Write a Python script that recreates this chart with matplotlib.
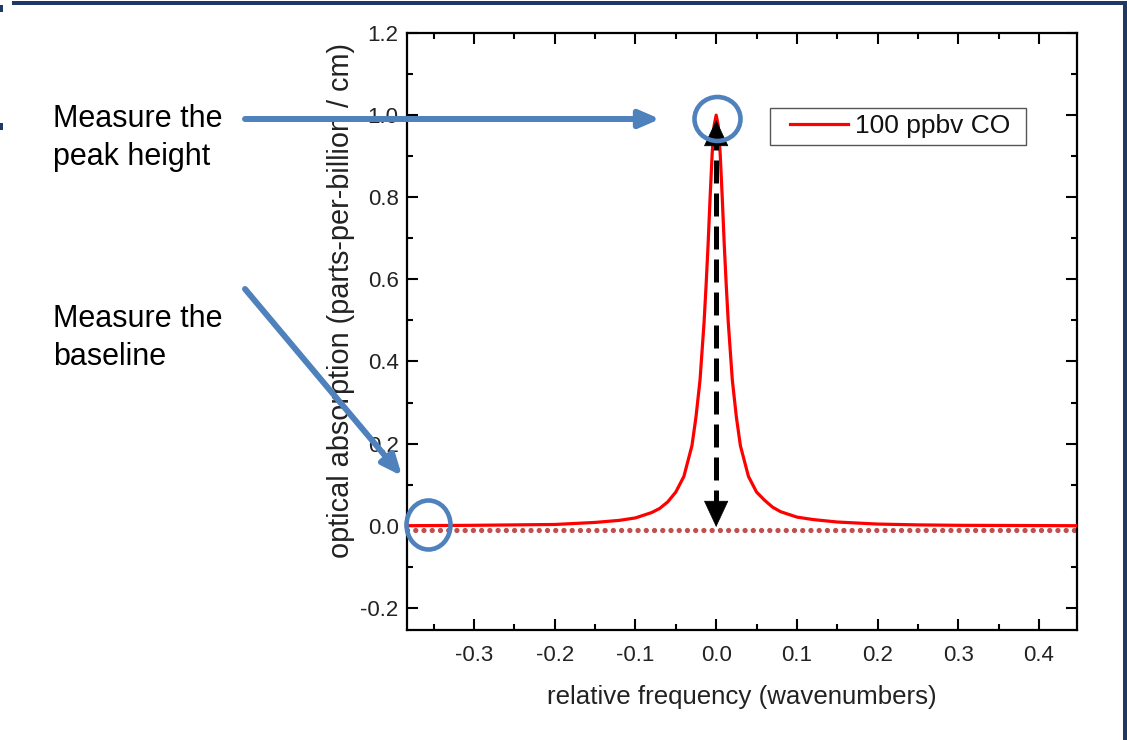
import matplotlib
matplotlib.use("Agg")
import matplotlib.pyplot as plt
from matplotlib.patches import FancyArrowPatch, Ellipse, Rectangle
from matplotlib.ticker import MultipleLocator

plt.rcParams['font.family'] = ['Liberation Sans', 'DejaVu Sans']

# ---- data ----
freq = [-0.383, -0.30, -0.25, -0.20, -0.15, -0.12, -0.10, -0.08, -0.07, -0.06,
        -0.05, -0.04, -0.03, -0.025, -0.02, -0.015, -0.0125, -0.01, -0.0075,
        -0.005, -0.0025, 0.0, 0.0025, 0.005, 0.0075, 0.01, 0.0125, 0.015, 0.02,
        0.025, 0.03, 0.04, 0.05, 0.06, 0.07, 0.08, 0.10, 0.12, 0.15, 0.20,
        0.25, 0.30, 0.447]
absorb = [0.000, 0.001, 0.002, 0.003, 0.008, 0.013, 0.019, 0.032, 0.042, 0.058,
          0.082, 0.120, 0.195, 0.265, 0.355, 0.495, 0.585, 0.685, 0.800,
          0.905, 0.975, 1.000, 0.975, 0.905, 0.800, 0.685, 0.585, 0.495, 0.355,
          0.265, 0.195, 0.120, 0.082, 0.062, 0.045, 0.034, 0.021, 0.015, 0.009, 0.004,
          0.002, 0.001, 0.000]
baseline_x = [-0.383, 0.447]
baseline_y = [-0.01, -0.01]
series_label = "100 ppbv CO"
xtick_vals = [-0.3, -0.2, -0.1, 0.0, 0.1, 0.2, 0.3, 0.4]
xtick_labels = ['-0.3', '-0.2', '-0.1', '0.0', '0.1', '0.2', '0.3', '0.4']
ytick_vals = [-0.2, 0.0, 0.2, 0.4, 0.6, 0.8, 1.0, 1.2]
ytick_labels = ['-0.2', '0.0', '0.2', '0.4', '0.6', '0.8', '1.0', '1.2']
peak_x = 0.0
peak_y = 1.0
base_y = -0.01

W, H = 1127, 740
fig = plt.figure(figsize=(W / 100, H / 100), dpi=100)
ax = fig.add_axes([407 / W, 1 - 630 / H, (1077 - 407) / W, (630 - 33) / H])

ax.plot(freq, absorb, color='#ff0000', lw=2.3, label=series_label, zorder=3)
ax.plot(baseline_x, baseline_y, color='#C0504D', lw=3.8,
        linestyle=(0, (0.01, 1.55)), dash_capstyle='round', zorder=2)

ax.set_xlim(-0.383, 0.447)
ax.set_ylim(-0.254, 1.2)
ax.xaxis.set_minor_locator(MultipleLocator(0.05))
ax.yaxis.set_minor_locator(MultipleLocator(0.1))
ax.set_xticks(xtick_vals)
ax.set_xticklabels(xtick_labels)
ax.set_yticks(ytick_vals)
ax.set_yticklabels(ytick_labels)
ax.tick_params(which='both', direction='in', top=True, right=True, width=1.5,
               colors='black', labelcolor='#222222', labelsize=16)
ax.tick_params(which='major', length=8)
ax.tick_params(which='minor', length=4.5)
ax.tick_params(axis='x', which='major', pad=11)
ax.tick_params(axis='y', which='major', pad=6)
for s in ax.spines.values():
    s.set_linewidth(1.6)
    s.set_color('black')

fig.text(742 / W, 1 - 697 / H, 'relative frequency (wavenumbers)', ha='center',
         va='center', fontsize=18.6, color='#222222')
fig.text(341 / W, 1 - 301 / H, 'optical absorption (parts-per-billion / cm)',
         ha='center', va='center', rotation=90, fontsize=20.8, color='#222222')

# legend (content via legend, frame as rectangle)
leg = ax.legend(loc='center left',
                bbox_to_anchor=((790 - 407) / 670, (630 - 126.5) / 597),
                borderaxespad=0, borderpad=0, frameon=False,
                fontsize=19, handlelength=2.2, handletextpad=0.27)
for t in leg.get_texts():
    t.set_color('#111111')
fig.add_artist(Rectangle((770 / W, 1 - 145 / H), (1026 - 770) / W, 37 / H,
                         transform=fig.transFigure, fill=False,
                         edgecolor='#555555', lw=1.0, zorder=6))

# dashed double arrow showing peak height
ax.plot([peak_x, peak_x], [base_y + 0.04, peak_y - 0.05], color='black', lw=3.6,
        linestyle=(0, (4.6, 2.0)), zorder=4)
ax.annotate('', xy=(peak_x, peak_y - 0.005), xytext=(peak_x, peak_y - 0.06),
            arrowprops=dict(arrowstyle='-|>,head_length=0.9,head_width=0.42',
                            color='black', lw=0.5, mutation_scale=20), zorder=5)
ax.annotate('', xy=(peak_x, base_y), xytext=(peak_x, base_y + 0.055),
            arrowprops=dict(arrowstyle='-|>,head_length=0.9,head_width=0.42',
                            color='black', lw=0.5, mutation_scale=20), zorder=5)

blue = '#4F81BD'
def px(x, y):
    return (x / W, 1 - y / H)

# circles
for (cx, cy, w, h) in [(717.5, 119, 46, 44), (428.5, 525, 44, 49)]:
    e = Ellipse(px(cx, cy), w / W, h / H, transform=fig.transFigure,
                fill=False, edgecolor=blue, lw=3.3, zorder=10)
    fig.add_artist(e)

# blue arrows
for (a, b) in [((245, 119), (660, 119)), ((245, 289), (402, 476))]:
    arr = FancyArrowPatch(px(*a), px(*b), transform=fig.transFigure,
                          arrowstyle='-|>,head_length=0.6,head_width=0.26',
                          mutation_scale=20, color=blue, lw=4.3, zorder=10,
                          shrinkA=0, shrinkB=0)
    fig.add_artist(arr)

# annotation texts
for (txt, y) in [('Measure the', 127), ('peak height', 165),
                 ('Measure the', 327), ('baseline', 365)]:
    fig.text(53 / W, 1 - y / H, txt, ha='left', va='baseline', fontsize=22,
             color='black')

# slide frame lines
navy = '#1F3864'
fig.add_artist(Rectangle((12 / W, 1 - 5 / H), (1127 - 12) / W, 4 / H,
                         transform=fig.transFigure, color=navy, lw=0))
fig.add_artist(Rectangle((1123 / W, 0), 4 / W, 1 - 1 / H,
                         transform=fig.transFigure, color=navy, lw=0))
for y0 in (5, 123):
    fig.add_artist(Rectangle((0, 1 - (y0 + 7) / H), 2.5 / W, 7 / H,
                             transform=fig.transFigure, color=navy, lw=0))

fig.savefig('out.png', dpi=100)
